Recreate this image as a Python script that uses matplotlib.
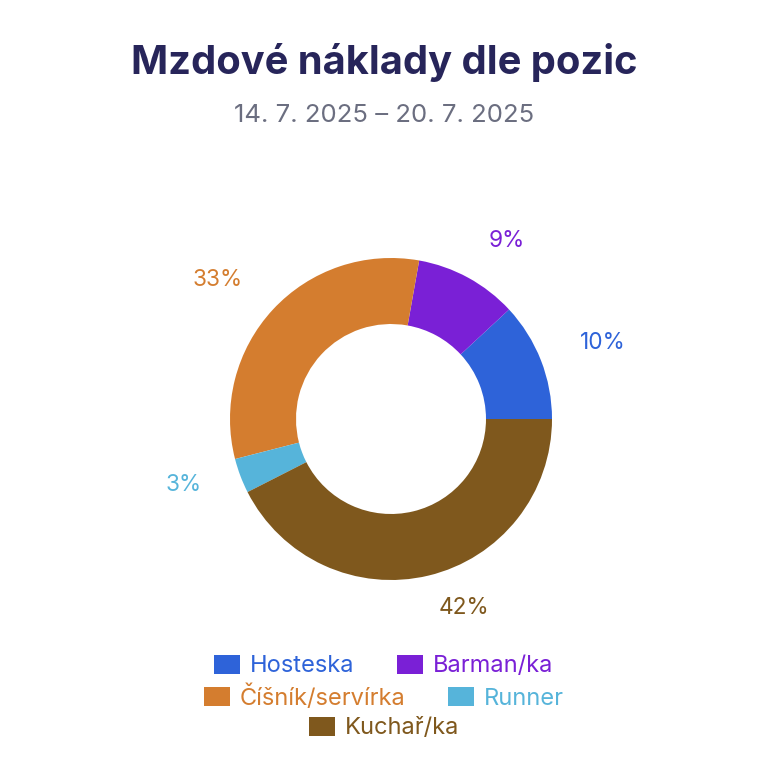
import matplotlib.pyplot as plt
from matplotlib.patches import Patch
import numpy as np

plt.rcParams['font.family'] = ['Inter', 'DejaVu Sans']

positions = ['Hosteska', 'Barman/ka', 'Číšník/servírka', 'Runner', 'Kuchař/ka']
shares = [11.9, 10.3, 31.8, 3.5, 42.5]
pct_labels = ['10%', '9%', '33%', '3%', '42%']
colors = ['#2e63d9', '#7a20d6', '#d47d2f', '#56b4da', '#7f581d']

title = 'Mzdové náklady dle pozic'
subtitle = '14. 7. 2025 – 20. 7. 2025'

W, H = 768, 783
fig = plt.figure(figsize=(W / 100, H / 100), dpi=100)

fig.text(0.5, 1 - 63 / H, title, ha='center', va='center',
         fontsize=28.7, fontweight='bold', color='#27255a')
fig.text(0.5, 1 - 115 / H, subtitle, ha='center', va='center',
         fontsize=18.5, color='#6b6e80')

# donut
cx, cy, r = 391, 419, 161
ax = fig.add_axes([(cx - r) / W, (H - cy - r) / H, 2 * r / W, 2 * r / H])
wedges, _ = ax.pie(shares, colors=colors, startangle=0, counterclock=True,
                   radius=1, wedgeprops=dict(width=0.41, linewidth=0))
ax.set_xlim(-1, 1)
ax.set_ylim(-1, 1)
ax.set_aspect('equal')
ax.axis('off')

# percentage labels anchored just outside the ring, aligned away from it
for w, lab, c in zip(wedges, pct_labels, colors):
    ang = np.deg2rad((w.theta1 + w.theta2) / 2)
    x, y = 1.26 * np.cos(ang), 1.23 * np.sin(ang) + 0.025
    ax.text(x, y, lab, ha='left' if x > 0 else 'right', va='center',
            fontsize=16.3, color=c, clip_on=False)

# legend in three centred rows
handles = [Patch(facecolor=c, edgecolor='none') for c in colors]
rows = [([0, 1], 666), ([2, 3], 697), ([4], 728)]
for idx, y in rows:
    leg = fig.legend([handles[i] for i in idx], [positions[i] for i in idx],
                     loc='center', bbox_to_anchor=(0.5, 1 - y / H), ncol=len(idx),
                     frameon=False, fontsize=17, handlelength=1.1, handleheight=0.85,
                     handletextpad=0.42, columnspacing=1.8, borderpad=0, borderaxespad=0)
    for t, i in zip(leg.get_texts(), idx):
        t.set_color(colors[i])

fig.savefig('out.png', dpi=100)
